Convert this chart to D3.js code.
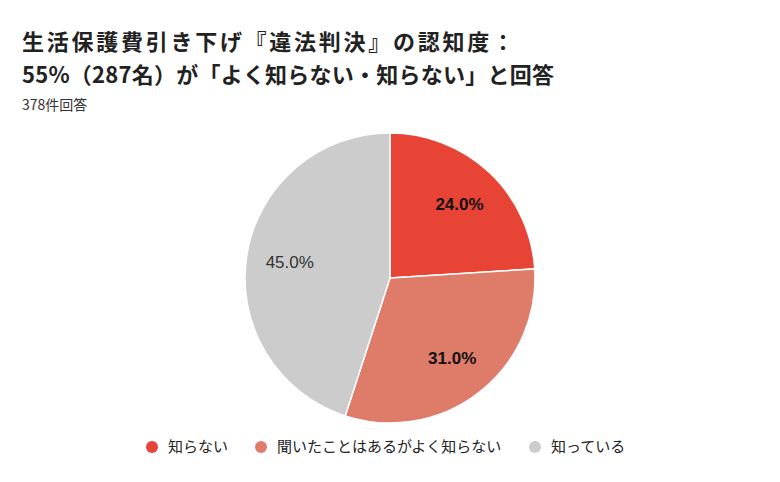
<!DOCTYPE html>
<html><head><meta charset="utf-8">
<script src="https://cdn.jsdelivr.net/npm/d3@7"></script>
<style>body{margin:0;background:#fff;font-family:"Noto Sans CJK JP","Noto Sans",sans-serif;}</style>
</head><body><svg id="c" width="780" height="482"></svg>
<script>
const categories = ["知らない","聞いたことはあるがよく知らない","知っている"];
const values = [24.0, 31.0, 45.0];
const labels = ["24.0%","31.0%","45.0%"];
const colors = ["#e84435","#df7b69","#cccccc"];

const svg = d3.select("#c");
svg.append("text").attr("x",22).attr("y",50).attr("font-size",22).attr("font-weight","bold").attr("fill","#222")
  .attr("textLength",492).text("生活保護費引き下げ『違法判決』の認知度：");
svg.append("text").attr("x",22).attr("y",83).attr("font-size",22).attr("font-weight","bold").attr("fill","#222")
  .attr("textLength",532).text("55%（287名）が「よく知らない・知らない」と回答");
svg.append("text").attr("x",22).attr("y",110).attr("font-size",14).attr("fill","#333").text("378件回答");

const cx=390, cy=278, r=145;
const pie = d3.pie().sort(null).value(d=>d);
const arc = d3.arc().innerRadius(0).outerRadius(r);
const g = svg.append("g").attr("transform",`translate(${cx},${cy})`);
const arcs = pie(values);
g.selectAll("path").data(arcs).join("path").attr("d",arc)
  .attr("fill",(d,i)=>colors[i]).attr("stroke","#fff").attr("stroke-width",1.5);
const lab = d3.arc().innerRadius(r*0.7).outerRadius(r*0.7);
g.selectAll("text").data(arcs).join("text")
  .attr("transform",d=>`translate(${lab.centroid(d)})`)
  .attr("text-anchor","middle").attr("dominant-baseline","central")
  .attr("font-family","Liberation Sans, Arial, sans-serif")
  .attr("font-size",17).attr("font-weight",(d,i)=>i<2?"bold":"normal")
  .attr("fill",(d,i)=>i<2?"#111":"#333").text((d,i)=>labels[i]);

const lx=[152,261,535];
const lg = svg.append("g");
categories.forEach((c,i)=>{
  lg.append("circle").attr("cx",lx[i]).attr("cy",447).attr("r",6).attr("fill",colors[i]);
  lg.append("text").attr("x",lx[i]+16).attr("y",452).attr("font-size",15).attr("fill","#222").text(c);
});
</script></body></html>
